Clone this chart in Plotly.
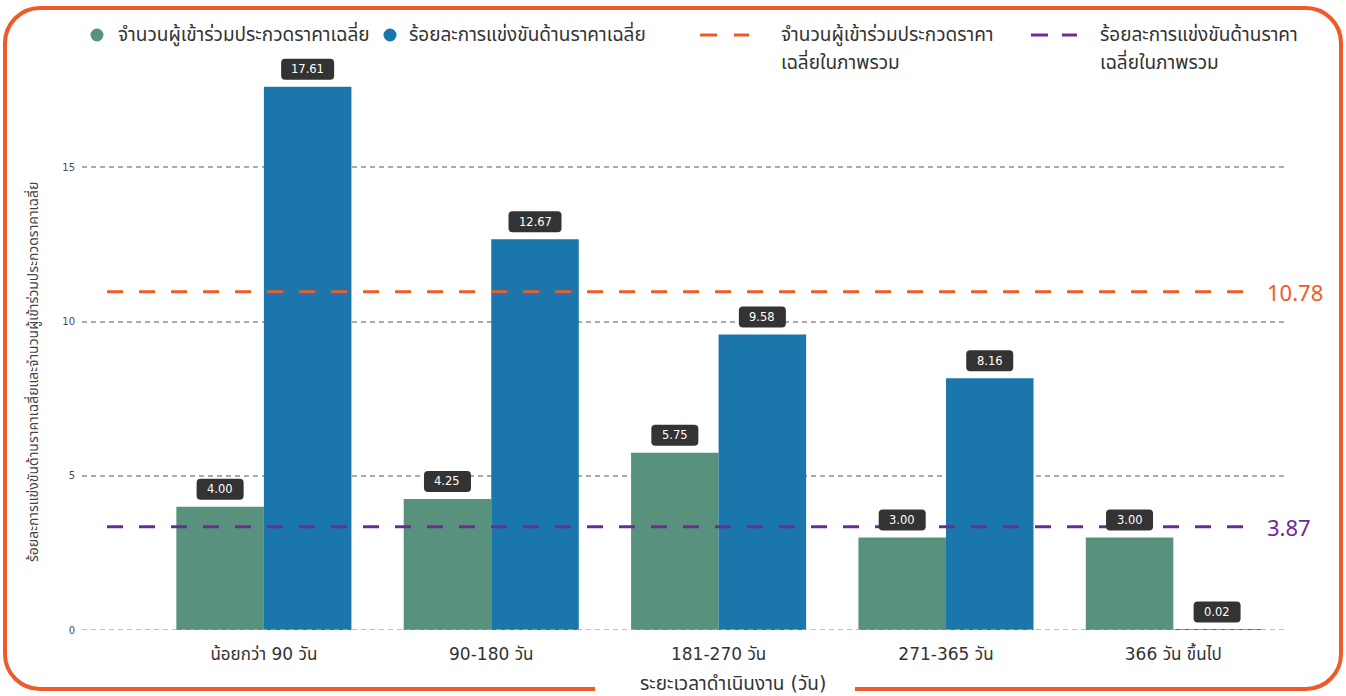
import plotly.graph_objects as go

# ---------------- data ----------------
categories = ["น้อยกว่า 90 วัน", "90-180 วัน", "181-270 วัน", "271-365 วัน", "366 วัน ขึ้นไป"]
avg_bidders = [4.00, 4.25, 5.75, 3.00, 3.00]
avg_competition = [17.61, 12.67, 9.58, 8.16, 0.02]
series_names = ["จำนวนผู้เข้าร่วมประกวดราคาเฉลี่ย", "ร้อยละการแข่งขันด้านราคาเฉลี่ย"]
overall_names_l1 = ["จำนวนผู้เข้าร่วมประกวดราคา", "ร้อยละการแข่งขันด้านราคา"]
overall_names_l2 = ["เฉลี่ยในภาพรวม", "เฉลี่ยในภาพรวม"]
overall_labels = ["10.78", "3.87"]
overall_line_levels = [10.97, 3.35]   # where the dashed lines are drawn in the picture
y_ticks = [0, 5, 10, 15]
x_title = "ระยะเวลาดำเนินงาน (วัน)"
y_title = "ร้อยละการแข่งขันด้านราคาเฉลี่ยและจำนวนผู้เข้าร่วมประกวดราคาเฉลี่ย"

# ---------------- style ----------------
GREEN = "#58927C"
BLUE = "#1B76AB"
ORANGE = "#F05A28"
PURPLE = "#6A2C9A"
LINE_COLORS = [ORANGE, PURPLE]
THAI = "Noto Sans Thai, Noto Sans, Tahoma, sans-serif"
WIDE = "DejaVu Sans, Noto Sans Thai, sans-serif"
NUM = "DejaVu Sans, Noto Sans, sans-serif"

Wfig, Hfig = 1346, 696
L, R, T, B = 82, 1287, 44, 630
PW, PH = R - L, B - T
def px(x):
    return (x - L) / PW
def py(y):
    return (B - y) / PH

xs = list(range(len(categories)))
fig = go.Figure()
fig.add_trace(go.Bar(x=xs, y=avg_bidders, name=series_names[0], marker=dict(color=GREEN, line=dict(width=0)),
                     showlegend=False, hoverinfo="skip"))
fig.add_trace(go.Bar(x=xs, y=avg_competition, name=series_names[1], marker=dict(color=BLUE, line=dict(width=0)),
                     showlegend=False, hoverinfo="skip"))

# overall average dashed lines
x_line0, x_line1 = -0.69, 4.34
for lvl, col, nm in zip(overall_line_levels, LINE_COLORS, overall_names_l1):
    fig.add_trace(go.Scatter(x=[x_line0, x_line1], y=[lvl, lvl], mode="lines",
                             line=dict(color=col, width=3, dash="16px,16px"),
                             showlegend=False, hoverinfo="skip", name=nm))

shapes = []
annotations = []

# dotted baseline drawn over the bars
shapes.append(dict(type="line", xref="paper", yref="y", x0=0, x1=1, y0=y_ticks[0], y1=y_ticks[0],
                   line=dict(color="#AAAAAA", width=1.5, dash="5px,4px"), layer="above"))

# data labels (rounded dark boxes)
half = 0.1925
def label(xc, val):
    txt = f"{val:.2f}"
    w = 47 if len(txt) <= 4 else 53
    h0, h1, r = 7, 28, 4
    a, b = -w / 2, w / 2
    path = (f"M {a+r},{h0} L {b-r},{h0} Q {b},{h0} {b},{h0+r} L {b},{h1-r} Q {b},{h1} {b-r},{h1} "
            f"L {a+r},{h1} Q {a},{h1} {a},{h1-r} L {a},{h0+r} Q {a},{h0} {a+r},{h0} Z")
    shapes.append(dict(type="path", xref="x", yref="y", xsizemode="pixel", ysizemode="pixel",
                       xanchor=xc, yanchor=val, path=path, fillcolor="#333333",
                       line=dict(width=0), layer="above"))
    annotations.append(dict(x=xc, y=val, xref="x", yref="y", text=txt, showarrow=False,
                            yanchor="middle", yshift=17.5,
                            font=dict(family=NUM, size=11.5, color="white")))

for i in xs:
    label(i - half, avg_bidders[i])
    label(i + half, avg_competition[i])

# right-side overall labels
for lvl, col, txt in zip(overall_line_levels, LINE_COLORS, overall_labels):
    annotations.append(dict(x=px(1265), y=lvl, xref="paper", yref="y", text=txt, showarrow=False,
                            xanchor="left", yanchor="middle",
                            font=dict(family="Noto Sans, sans-serif", size=22, color=col)))

# y axis title
annotations.append(dict(x=px(33), y=py(372), xref="paper", yref="paper", text=y_title, showarrow=False,
                        textangle=-90, xanchor="center", yanchor="middle",
                        font=dict(family=THAI, size=14, color="#444444")))
# x axis title
annotations.append(dict(x=px(733), y=py(683), xref="paper", yref="paper", text=x_title, showarrow=False,
                        xanchor="center", yanchor="middle",
                        font=dict(family=WIDE, size=19, color="#333333")))

# legend (manual)
LEG = 19
for cx, col, nm, tx in [(97, GREEN, series_names[0], 116), (390, BLUE, series_names[1], 407)]:
    shapes.append(dict(type="circle", xref="paper", yref="paper", xsizemode="pixel", ysizemode="pixel",
                       xanchor=px(cx), yanchor=py(35), x0=-6.5, x1=6.5, y0=-6.5, y1=6.5,
                       fillcolor=col, line=dict(width=0)))
    annotations.append(dict(x=px(tx), y=py(35), xref="paper", yref="paper", text=nm, showarrow=False,
                            xanchor="left", yanchor="middle",
                            font=dict(family=THAI, size=LEG, color="#333333")))
for segs, col, l1, l2, tx in [([(700, 717), (734, 749)], ORANGE, overall_names_l1[0], overall_names_l2[0], 779),
                              ([(1031, 1048), (1062, 1077)], PURPLE, overall_names_l1[1], overall_names_l2[1], 1098)]:
    for s0, s1 in segs:
        shapes.append(dict(type="line", xref="paper", yref="paper", x0=px(s0), x1=px(s1),
                           y0=py(35), y1=py(35), line=dict(color=col, width=3)))
    for txt, yy in [(l1, 35), (l2, 63)]:
        annotations.append(dict(x=px(tx), y=py(yy), xref="paper", yref="paper", text=txt, showarrow=False,
                                xanchor="left", yanchor="middle", align="left",
                                font=dict(family=THAI, size=LEG, color="#333333")))

# rounded orange frame with gap for x title
x0b, x1b, y0b, y1b, rr = 5, 1341, 8, 689, 35
k = 0.5523 * rr
def P(x, y):
    return f"{px(x):.5f},{py(y):.5f}"
frame = (f"M {P(855, y1b)} L {P(x1b-rr, y1b)} "
         f"C {P(x1b-rr+k, y1b)} {P(x1b, y1b-rr+k)} {P(x1b, y1b-rr)} "
         f"L {P(x1b, y0b+rr)} "
         f"C {P(x1b, y0b+rr-k)} {P(x1b-rr+k, y0b)} {P(x1b-rr, y0b)} "
         f"L {P(x0b+rr, y0b)} "
         f"C {P(x0b+rr-k, y0b)} {P(x0b, y0b+rr-k)} {P(x0b, y0b+rr)} "
         f"L {P(x0b, y1b-rr)} "
         f"C {P(x0b, y1b-rr+k)} {P(x0b+rr-k, y1b)} {P(x0b+rr, y1b)} "
         f"L {P(595, y1b)}")
shapes.append(dict(type="path", xref="paper", yref="paper", path=frame,
                   line=dict(color=ORANGE, width=4), fillcolor="rgba(0,0,0,0)"))

fig.update_layout(
    width=Wfig, height=Hfig,
    margin=dict(l=L, r=Wfig - R, t=T, b=Hfig - B, pad=0),
    paper_bgcolor="white", plot_bgcolor="white",
    barmode="group", bargap=0.23, bargroupgap=0,
    showlegend=False,
    shapes=shapes, annotations=annotations,
    xaxis=dict(range=[-0.8, 4.5], tickmode="array", tickvals=xs, ticktext=categories,
               showgrid=False, zeroline=False, showline=False, ticks="",
               tickfont=dict(family=WIDE, size=17, color="#333333"), ticklabelstandoff=12),
    yaxis=dict(range=[0, 19], tickmode="array", tickvals=y_ticks, showgrid=True,
               gridcolor="#AAAAAA", gridwidth=1.5, griddash="5px,4px", zeroline=False,
               showline=False, ticks="", ticklabelstandoff=6,
               tickfont=dict(family=NUM, size=10, color="#4a4a5a")),
)

fig.write_html("out.html", config={"displayModeBar": False},
               post_script="document.body.style.margin='0px';")
